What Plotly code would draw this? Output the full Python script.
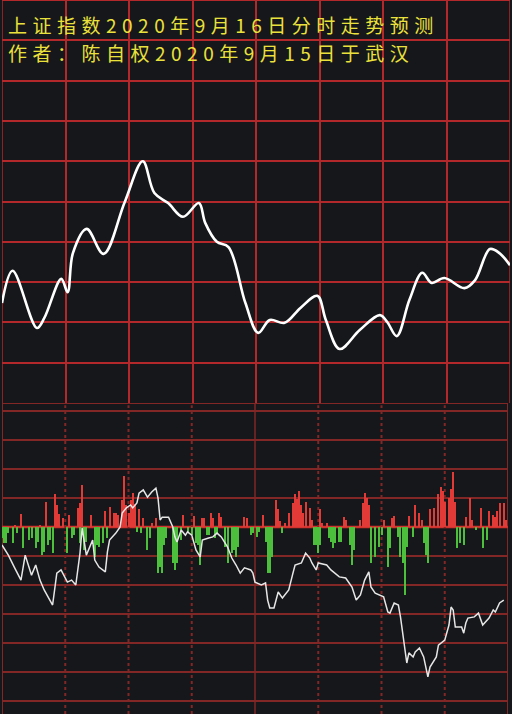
import plotly.graph_objects as go

# ---------------- data ----------------
title_line1 = "上证指数2020年9月16日分时走势预测"
title_line2 = "作者：陈自权2020年9月15日于武汉"

# forecast curve (upper panel): minute of session, level in grid units
curve_minutes = [0, 5, 16.5, 20, 28, 31, 33.5, 40, 48, 58, 66.5, 72, 78.5, 85.5, 93, 96,
                 101.5, 107, 115, 121, 126.5, 133.5, 141, 149, 153, 159.5, 169, 178.5,
                 182, 186.5, 192.5, 198.5, 203, 209, 218.5, 223.5, 230.5, 235, 240]
curve_values = [2.48, 3.28, 1.86, 2.11, 3.08, 2.75, 3.72, 4.32, 3.70, 4.99, 6.00, 5.21,
                4.96, 4.62, 4.96, 4.47, 4.00, 3.87, 2.48, 1.74, 2.06, 1.99, 2.36, 2.66,
                2.06, 1.34, 1.81, 2.18, 2.01, 1.66, 2.56, 3.23, 2.98, 3.10, 2.85, 3.05,
                3.82, 3.72, 3.42]

# lower panel: buying (red) bars
red_minutes = [6, 9, 18, 21, 25, 26, 27, 29, 32, 36, 37, 38, 42, 49, 51, 53, 54, 55, 57, 58,
               59, 60, 61, 62, 63, 65, 67, 71, 73, 86, 91, 95, 96, 99, 100, 103, 104, 115,
               116, 124, 130, 131, 132, 134, 136, 138, 139, 140, 141, 142, 143, 144, 146,
               147, 151, 152, 154, 162, 163, 170, 171, 172, 173, 174, 181, 185, 186, 193,
               196, 198, 199, 203, 205, 207, 208, 209, 210, 212, 213, 214, 215, 220, 222,
               223, 227, 231, 233, 234, 235, 236, 238, 239]
red_values = [0.07, 0.45, 0.07, 0.86, 1.14, 0.76, 0.45, 0.31, 0.41, 0.66, 0.83, 1.45, 0.41,
              0.55, 0.69, 0.48, 0.48, 0.41, 0.93, 1.76, 0.76, 0.48, 0.93, 1.17, 0.79, 0.62,
              0.31, 0.14, 0.31, 0.41, 0.38, 0.31, 0.31, 0.48, 0.31, 0.48, 0.34, 0.34, 0.31,
              0.41, 0.93, 0.62, 0.20, 0.14, 0.48, 0.83, 1.14, 0.97, 1.24, 0.76, 0.48, 0.86,
              0.66, 0.24, 0.62, 0.14, 0.14, 0.34, 0.24, 0.24, 0.83, 1.17, 1.00, 0.76, 0.24,
              0.31, 0.38, 0.38, 0.76, 0.48, 0.24, 0.62, 0.66, 1.14, 1.38, 1.24, 0.86, 1.00,
              1.31, 1.90, 0.86, 0.34, 1.00, 0.24, 0.66, 0.55, 0.41, 0.34, 0.55, 0.83, 0.83,
              0.24]

# lower panel: selling (green) bars
green_minutes = [0, 1, 2, 3, 5, 7, 10, 13, 14, 16, 17, 19, 20, 22, 23, 24, 31, 33, 34, 37, 39,
                 40, 44, 45, 46, 48, 50, 64, 66, 69, 70, 74, 75, 76, 77, 78, 81, 82, 83, 85,
                 88, 90, 92, 93, 94, 97, 98, 101, 102, 106, 107, 109, 110, 111, 112, 118, 119,
                 121, 122, 125, 126, 127, 128, 133, 148, 149, 150, 151, 155, 156, 157, 158,
                 160, 161, 165, 166, 167, 175, 177, 179, 180, 183, 184, 188, 189, 190, 191,
                 192, 195, 200, 201, 202, 216, 217, 219, 225, 228, 230]
green_values = [-0.38, -0.55, -0.55, -0.21, -0.55, -0.21, -0.72, -0.45, -0.38, -0.72, -0.52,
                -0.97, -0.86, -0.62, -0.45, -0.90, -0.90, -0.38, -0.28, -0.55, -0.79, -0.52,
                -1.03, -0.62, -0.69, -0.55, -0.38, -0.17, -0.21, -0.79, -0.38, -1.59, -1.38,
                -1.59, -0.62, -0.38, -1.24, -1.48, -1.24, -0.45, -0.17, -0.28, -0.55, -0.62,
                -1.31, -0.28, -0.28, -0.38, -0.21, -0.69, -1.24, -0.90, -0.79, -1.03, -0.69,
                -0.28, -0.21, -0.34, -0.17, -0.52, -1.59, -1.59, -1.03, -0.21, -0.62, -0.62,
                -0.90, -0.62, -0.38, -0.52, -0.72, -0.55, -0.52, -0.52, -0.62, -1.31, -0.79,
                -1.24, -1.03, -0.69, -0.28, -1.38, -0.72, -0.34, -1.03, -1.24, -2.34, -0.69,
                -0.34, -0.55, -0.97, -1.24, -0.72, -0.55, -0.62, -0.10, -0.72, -0.45]

# lower panel: white line
line_minutes = [0, 3, 6, 9, 11, 14, 16, 18, 20, 22, 24, 26, 28, 31, 33, 35, 37, 38, 40, 43,
                44, 46, 49, 50, 51, 54, 56, 57, 59, 61, 62, 64, 65, 67, 69, 71, 73, 74, 75, 76,
                79, 81, 82, 83, 85, 87, 88, 90, 92, 94, 95, 98, 100, 102, 104, 107, 109, 111,
                113, 115, 118, 119, 120, 123, 125, 126, 127, 129, 131, 133, 136, 138, 139, 142,
                144, 146, 147, 149, 150, 154, 156, 160, 163, 166, 168, 170, 172, 174, 175, 177,
                181, 183, 184, 186, 188, 189, 191, 192, 193, 195, 196, 198, 200, 201, 202, 203,
                206, 207, 210, 212, 213, 214, 215, 218, 219, 220, 221, 224, 226, 228, 231, 233,
                234, 236, 238]
line_values = [-0.62, -0.97, -1.41, -1.83, -0.97, -1.66, -1.31, -1.83, -2.17, -2.45, -2.69,
               -1.59, -1.48, -1.90, -1.83, -2.00, -0.90, -0.03, -0.97, -0.45, -1.14, -1.38,
               -1.55, -0.86, -0.45, -0.21, 0.00, 0.48, 0.66, 0.76, 0.66, 0.83, 1.17, 1.28,
               1.03, 1.21, 1.34, 1.00, 0.24, 0.34, 0.34, 0.00, -0.34, -0.52, -0.10, -0.28,
               -0.17, -0.28, -0.79, -1.03, -0.45, -0.38, -0.34, -0.21, -0.34, -0.69, -1.07,
               -1.31, -1.59, -1.41, -1.48, -1.59, -1.90, -2.00, -1.93, -2.52, -2.79, -2.79,
               -2.24, -2.45, -2.17, -1.59, -1.31, -1.24, -0.90, -1.07, -1.24, -1.48, -1.24,
               -1.31, -1.48, -1.72, -1.76, -2.07, -2.52, -2.34, -1.83, -1.55, -2.07, -2.28,
               -2.41, -2.93, -2.97, -2.62, -2.69, -3.10, -4.07, -4.69, -4.34, -4.48, -4.31,
               -4.17, -4.48, -4.83, -5.17, -4.83, -4.48, -4.07, -3.90, -3.38, -2.76, -2.86,
               -3.45, -3.45, -3.66, -3.31, -3.14, -3.10, -2.97, -3.38, -3.14, -2.86, -2.93,
               -2.62, -2.52]

# ---------------- style ----------------
W, H = 512, 714
BG = "#16171a"
GRID_TOP = "#b3282a"
GRID_LOW = "#822626"
YELLOW = "#ebe13c"

top_dom = [1 - 403 / H, 1.0]
low_dom = [0.0, 1 - 403 / H]

fig = go.Figure()

fig.add_trace(go.Scatter(x=curve_minutes, y=curve_values, mode="lines",
                         line=dict(color="#ffffff", width=2.6, shape="spline", smoothing=1.0),
                         xaxis="x", yaxis="y", hoverinfo="skip", showlegend=False))

fig.add_trace(go.Bar(x=red_minutes, y=red_values, marker=dict(color="#e23a36", line=dict(width=0)),
                     width=0.95, xaxis="x2", yaxis="y2", showlegend=False, hoverinfo="skip"))
fig.add_trace(go.Bar(x=green_minutes, y=green_values, marker=dict(color="#4cbf3c", line=dict(width=0)),
                     width=0.95, xaxis="x2", yaxis="y2", showlegend=False, hoverinfo="skip"))
fig.add_trace(go.Scatter(x=line_minutes, y=line_values, mode="lines",
                         line=dict(color="#e6e6e6", width=1.5),
                         xaxis="x2", yaxis="y2", hoverinfo="skip", showlegend=False))

shapes = []
# upper panel borders
for xv in [0, 240]:
    shapes.append(dict(type="line", xref="x", yref="y domain", x0=xv, x1=xv, y0=0, y1=1,
                       line=dict(color=GRID_TOP, width=1.5), layer="below"))
shapes.append(dict(type="line", xref="x domain", yref="y", x0=0, x1=1, y0=10, y1=10,
                   line=dict(color=GRID_TOP, width=2), layer="below"))
# lower panel borders / lines
for xv in [0, 240]:
    shapes.append(dict(type="line", xref="x2", yref="y2 domain", x0=xv, x1=xv, y0=0, y1=1,
                       line=dict(color=GRID_LOW, width=2), layer="below"))
shapes.append(dict(type="line", xref="x2", yref="y2 domain", x0=120, x1=120, y0=0, y1=1,
                   line=dict(color=GRID_LOW, width=1.5), layer="below"))
for xv in [30, 60, 90, 150, 180, 210]:
    shapes.append(dict(type="line", xref="x2", yref="y2", x0=xv, x1=xv, y0=-6.45, y1=4.2,
                       line=dict(color=GRID_LOW, width=2, dash="dot"), layer="below"))
for yv in [4.276, 4, 3, 2, 1, -1, -2, -3, -4, -5, -6]:
    shapes.append(dict(type="line", xref="x2 domain", yref="y2", x0=0, x1=1, y0=yv, y1=yv,
                       line=dict(color=GRID_LOW, width=2), layer="below"))
shapes.append(dict(type="line", xref="x2 domain", yref="y2", x0=0, x1=1, y0=0, y1=0,
                   line=dict(color="#d0322e", width=2.5), layer="below"))

title_font = dict(family="Noto Sans CJK SC", size=19, color=YELLOW)

fig.update_layout(
    width=W, height=H,
    margin=dict(l=0, r=0, t=0, b=0),
    paper_bgcolor=BG, plot_bgcolor=BG,
    bargap=0, barmode="overlay",
    shapes=shapes,
    xaxis=dict(domain=[2 / W, 510 / W], range=[0, 240], dtick=30, tick0=0,
               showgrid=True, gridcolor=GRID_TOP, gridwidth=1.5,
               showticklabels=False, zeroline=False, showline=False, ticks=""),
    yaxis=dict(domain=top_dom, range=[0, 10], dtick=1, tick0=0,
               showgrid=True, gridcolor=GRID_TOP, gridwidth=1.5,
               showticklabels=False, zeroline=False, showline=False, ticks=""),
    xaxis2=dict(domain=[2 / W, 508 / W], range=[0, 240], anchor="y2",
                showgrid=False, showticklabels=False, zeroline=False, showline=False, ticks=""),
    yaxis2=dict(domain=low_dom, range=[-6.448, 4.276], anchor="x2",
                showgrid=False, showticklabels=False, zeroline=False, showline=False, ticks=""),
    annotations=[
        dict(text=title_line1, xref="paper", yref="paper",
             x=6 / W, y=1 - 24.5 / H, xanchor="left", yanchor="middle", align="left",
             showarrow=False, font=title_font),
        dict(text=title_line2, xref="paper", yref="paper",
             x=6 / W, y=1 - 52.5 / H, xanchor="left", yanchor="middle", align="left",
             showarrow=False, font=title_font),
    ],
)

post = (
    "document.body.style.margin='0';"
    "document.body.style.padding='0';"
    "var st=document.createElement('style');"
    "st.textContent='.annotation-text{letter-spacing:5.5px;}';"
    "document.head.appendChild(st);"
)
fig.write_html("out.html", post_script=post, config={"displayModeBar": False})
